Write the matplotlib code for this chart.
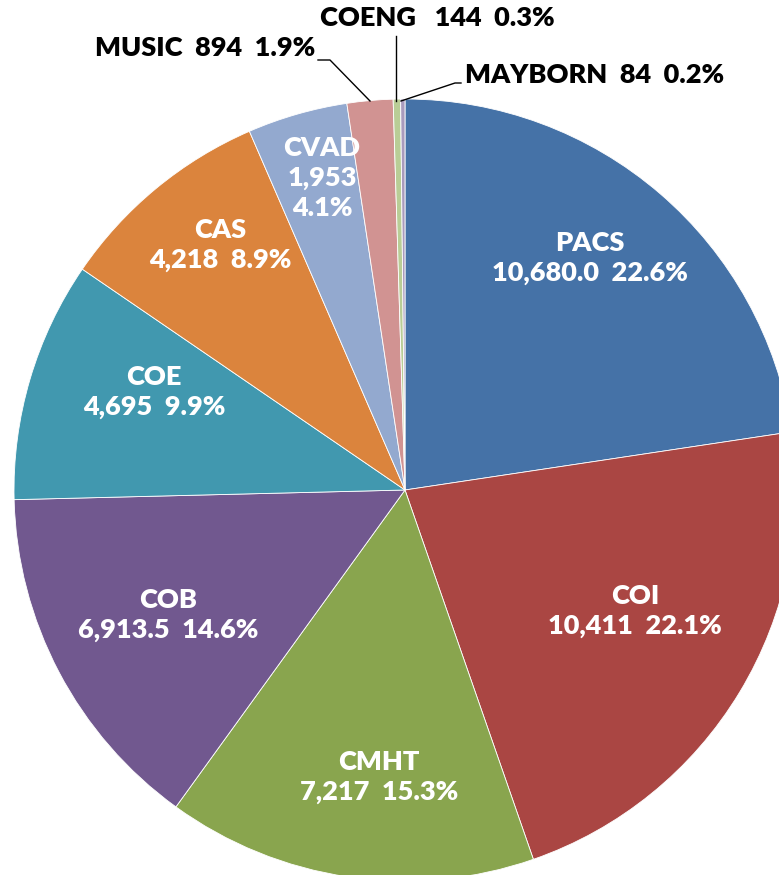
#!/usr/bin/env python3
"""Pie chart of enrollment by college."""

import matplotlib.pyplot as plt

names = ['PACS', 'COI', 'CMHT', 'COB', 'COE', 'CAS', 'CVAD', 'MUSIC', 'COENG', 'MAYBORN']
values = [10680.0, 10411, 7217, 6913.5, 4695, 4218, 1953, 894, 144, 84]
value_text = ['10,680.0', '10,411', '7,217', '6,913.5', '4,695', '4,218', '1,953', '894', '144', '84']
pct_text = ['22.6%', '22.1%', '15.3%', '14.6%', '9.9%', '8.9%', '4.1%', '1.9%', '0.3%', '0.2%']
colors = ['#4572A7', '#AA4643', '#89A54E', '#71588F', '#4198AF',
          '#DB843D', '#93A9CF', '#D19392', '#B9CD96', '#A99BBD']

W, H = 779, 875


def main():
    plt.rcParams['font.family'] = ['Lato', 'DejaVu Sans']
    fig = plt.figure(figsize=(W / 100, H / 100), dpi=100)
    ax = fig.add_axes([0, 0, 1, 1])

    # layout given in pixel coords (y down); flip to data coords
    def fy(y):
        return H - y

    cx, cy, r = 405, 490, 391
    ax.pie(values, colors=colors, startangle=90, counterclock=False,
           center=(cx, fy(cy)), radius=r, frame=True,
           wedgeprops=dict(edgecolor='white', linewidth=0.6))
    ax.set_xlim(0, W)
    ax.set_ylim(0, H)
    ax.set_aspect('equal')
    ax.axis('off')

    fs = 19.5
    fw = 'heavy'
    inside = {
        'PACS': (590, 258), 'COI': (635, 611), 'CMHT': (379, 777),
        'COB': (168, 615), 'COE': (154, 392), 'CAS': (220, 245),
    }
    for i, n in enumerate(names):
        if n in inside:
            x, y = inside[n]
            ax.text(x, fy(y), f'{n}\n{value_text[i]}  {pct_text[i]}', color='white',
                    fontsize=fs, fontweight=fw, ha='center', va='center',
                    linespacing=1.3)
    i = names.index('CVAD')
    ax.text(322, fy(178), f'CVAD\n{value_text[i]}\n{pct_text[i]}', color='white',
            fontsize=fs, fontweight=fw, ha='center', va='center', linespacing=1.3)

    # outside labels with leader lines
    i = names.index('MUSIC')
    ax.text(315, fy(48), f'MUSIC  {value_text[i]}  {pct_text[i]}', fontsize=fs,
            fontweight=fw, ha='right', va='center')
    ax.plot([318, 330, 370], [fy(60), fy(60), fy(101)], color='black', lw=1)
    i = names.index('COENG')
    ax.text(437, fy(18), f'COENG   {value_text[i]}  {pct_text[i]}', fontsize=fs,
            fontweight=fw, ha='center', va='center')
    ax.plot([396, 396], [fy(36), fy(101)], color='black', lw=1)
    i = names.index('MAYBORN')
    ax.text(465, fy(75), f'MAYBORN  {value_text[i]}  {pct_text[i]}', fontsize=fs,
            fontweight=fw, ha='left', va='center')
    ax.plot([401, 455, 461], [fy(101), fy(83), fy(83)], color='black', lw=1)

    fig.savefig('out.png', dpi=100)


if __name__ == '__main__':
    main()
